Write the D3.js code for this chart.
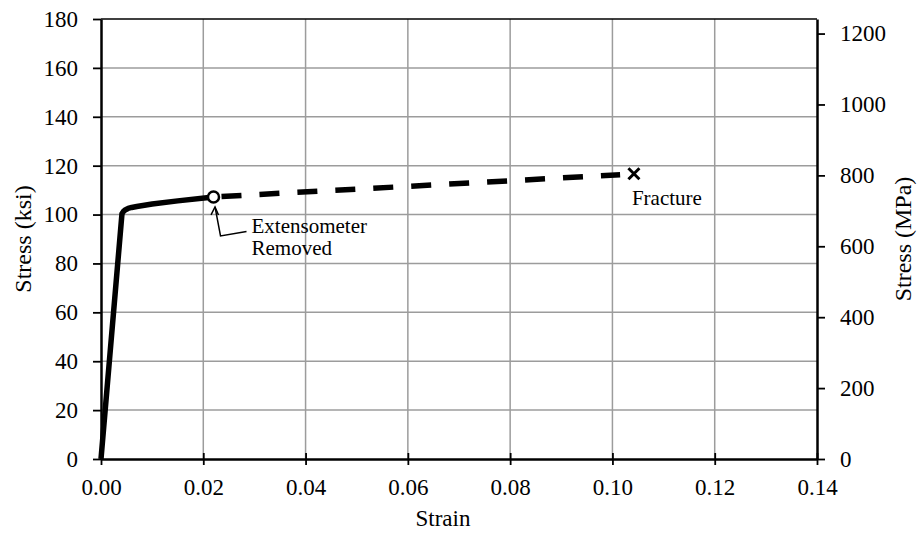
<!DOCTYPE html>
<html>
<head>
<meta charset="utf-8">
<script src="https://cdn.jsdelivr.net/npm/d3@7"></script>
<style>
  html, body { margin: 0; padding: 0; background: #fff; }
  svg text { font-family: "Liberation Serif", "Times New Roman", serif; fill: #000; }
</style>
</head>
<body>
<svg id="chart" width="917" height="534"></svg>
<script>
// Stress–strain curve, measured portion (extensometer attached): [strain, stress ksi]
const measuredStrain = [0, 0.0041, 0.0044, 0.0048, 0.0053, 0.0060, 0.0070, 0.010, 0.015, 0.022];
const measuredStress = [0, 100.3, 101.3, 102.0, 102.5, 102.9, 103.3, 104.3, 105.6, 107.2];
// Portion after extensometer removal, up to fracture
const extendedStrain = [0.022, 0.1015];
const extendedStress = [107.2, 116.3];
// Event markers
const removalPoint = [0.022, 107.2];
const fracturePoint = [0.1042, 116.7];

const strainTicks = [0, 0.02, 0.04, 0.06, 0.08, 0.10, 0.12, 0.14];
const ksiTicks = [0, 20, 40, 60, 80, 100, 120, 140, 160, 180];
const mpaTicks = [0, 200, 400, 600, 800, 1000, 1200];
const KSI_TO_MPA = 6.894757;

const svg = d3.select("#chart");
const m = { left: 101, right: 817, top: 19, bottom: 459 };

const x = d3.scaleLinear().domain([0, 0.14]).range([m.left, m.right]);
const y = d3.scaleLinear().domain([0, 180]).range([m.bottom, m.top]);
const yMpa = d3.scaleLinear().domain([0, 180 * KSI_TO_MPA]).range([m.bottom, m.top]);

// Gridlines
const grid = svg.append("g").attr("stroke", "#9c9c9c").attr("stroke-width", 1.5);
strainTicks.filter(t => t > 0 && t < 0.14).forEach(t => {
  grid.append("line").attr("x1", x(t)).attr("x2", x(t)).attr("y1", m.top).attr("y2", m.bottom);
});
ksiTicks.filter(t => t > 0 && t < 180).forEach(t => {
  grid.append("line").attr("x1", m.left).attr("x2", m.right).attr("y1", y(t)).attr("y2", y(t));
});

// Top border
svg.append("line").attr("x1", m.left).attr("x2", m.right).attr("y1", m.top).attr("y2", m.top)
  .attr("stroke", "#000").attr("stroke-width", 1.5);

function styleAxis(g) {
  g.select(".domain").attr("stroke", "#000").attr("stroke-width", 2.5);
  g.selectAll(".tick line").attr("stroke", "#000").attr("stroke-width", 1.8);
  g.selectAll(".tick text").attr("font-size", 23);
}

// Left axis (ksi)
svg.append("g").attr("transform", `translate(${m.left},0)`)
  .call(d3.axisLeft(y).tickValues(ksiTicks).tickFormat(d3.format("d")).tickSizeInner(8).tickSizeOuter(0).tickPadding(15))
  .call(styleAxis);

// Right axis (MPa)
svg.append("g").attr("transform", `translate(${m.right},0)`)
  .call(d3.axisRight(yMpa).tickValues(mpaTicks).tickFormat(d3.format("d")).tickSizeInner(8).tickSizeOuter(0).tickPadding(15))
  .call(styleAxis);

// Bottom axis (strain), ticks crossing the axis line
const xAxisG = svg.append("g").attr("transform", `translate(0,${m.bottom})`)
  .call(d3.axisBottom(x).tickValues(strainTicks).tickFormat(d3.format(".2f")).tickSizeInner(6).tickSizeOuter(0).tickPadding(14))
  .call(styleAxis);
xAxisG.selectAll(".tick line").attr("y1", -6).attr("y2", 6);

// Axis titles
svg.append("text").attr("x", 443).attr("y", 526)
  .attr("text-anchor", "middle").attr("font-size", 23).text("Strain");
svg.append("text").attr("transform", `translate(31,${(m.top + m.bottom) / 2}) rotate(-90)`)
  .attr("text-anchor", "middle").attr("font-size", 24).text("Stress (ksi)");
svg.append("text").attr("transform", `translate(911,${(m.top + m.bottom) / 2}) rotate(-90)`)
  .attr("text-anchor", "middle").attr("font-size", 24).text("Stress (MPa)");

// Curves
const line = d3.line().x(d => x(d[0])).y(d => y(d[1]));
const measured = measuredStrain.map((s, i) => [s, measuredStress[i]]);
const extended = extendedStrain.map((s, i) => [s, extendedStress[i]]);

svg.append("path").datum(extended)
  .attr("d", line).attr("fill", "none").attr("stroke", "#000")
  .attr("stroke-width", 5.5).attr("stroke-dasharray", "20,18").attr("stroke-dashoffset", -8);

svg.append("path").datum(measured)
  .attr("d", line).attr("fill", "none").attr("stroke", "#000")
  .attr("stroke-width", 5.5).attr("stroke-linejoin", "round");

// Extensometer removal marker
svg.append("circle").attr("cx", x(removalPoint[0])).attr("cy", y(removalPoint[1])).attr("r", 5.5)
  .attr("fill", "#fff").attr("stroke", "#000").attr("stroke-width", 2.5);

// Fracture marker
const fx = x(fracturePoint[0]), fy = y(fracturePoint[1]), fs = 5.5;
svg.append("path")
  .attr("d", `M${fx - fs},${fy - fs}L${fx + fs},${fy + fs}M${fx - fs},${fy + fs}L${fx + fs},${fy - fs}`)
  .attr("stroke", "#000").attr("stroke-width", 3).attr("fill", "none");

// Annotations
const cx = x(removalPoint[0]), cy = y(removalPoint[1]);
const tipY = cy + 10;
svg.append("path")
  .attr("d", `M${cx + 1.5},${tipY} L${cx + 7},${cy + 39} L${cx + 33},${cy + 34.5}`)
  .attr("fill", "none").attr("stroke", "#000").attr("stroke-width", 1.5);
svg.append("path")
  .attr("d", `M${cx - 2.5},${tipY + 8} L${cx + 1.5},${tipY} L${cx + 5},${tipY + 8}`)
  .attr("fill", "none").attr("stroke", "#000").attr("stroke-width", 1.5);

svg.append("text").attr("x", cx + 38).attr("y", cy + 36).attr("font-size", 21).text("Extensometer");
svg.append("text").attr("x", cx + 38).attr("y", cy + 58).attr("font-size", 21).text("Removed");
svg.append("text").attr("x", fx - 2).attr("y", fy + 31).attr("font-size", 21).text("Fracture");
</script>
</body>
</html>
